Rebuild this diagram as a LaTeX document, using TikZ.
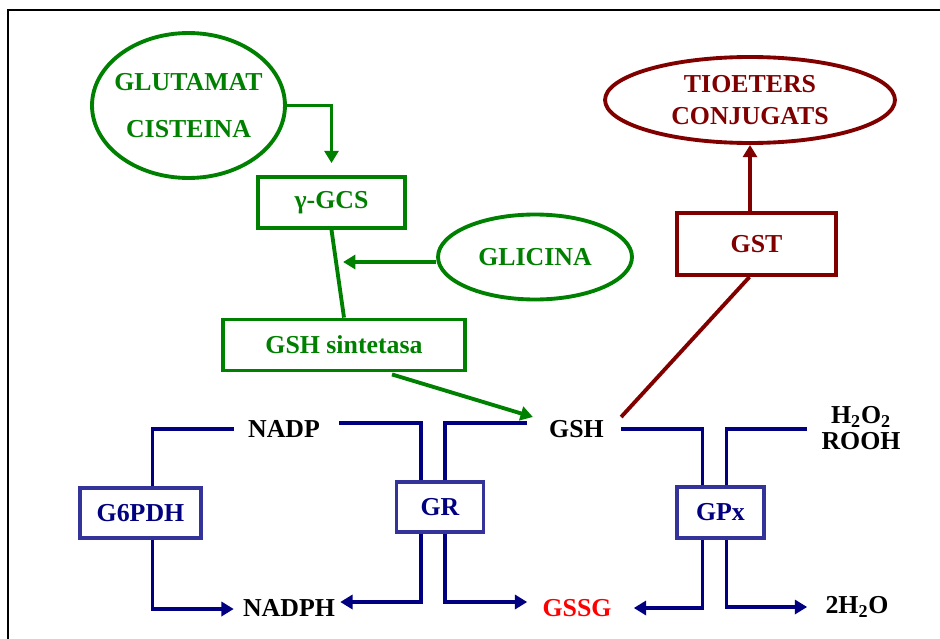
\documentclass[tikz,border=0pt]{standalone}
\usepackage{fontspec}
\setmainfont{Liberation Serif}
\usetikzlibrary{shapes.geometric, arrows.meta, calc}

\definecolor{glugreen}{RGB}{0,128,0}
\definecolor{gstred}{RGB}{128,0,0}
\definecolor{redoxblue}{RGB}{0,0,128}
\definecolor{boxblue}{RGB}{51,51,153}

\begin{document}
\begin{tikzpicture}[
    x=0.02cm, y=-0.02cm,
    every node/.style={font=\bfseries\fontsize{14.7}{17}\selectfont},
    enzbox/.style={rectangle, draw, line width=2.2pt, fill=white, inner sep=0pt},
    synbox/.style={enzbox, draw=glugreen, text=glugreen},
    redbox/.style={enzbox, draw=boxblue, text=redoxblue, minimum width=1.74cm, minimum height=1.0cm},
    pool/.style={ellipse, draw, line width=2.2pt, inner sep=0pt, align=center},
    chem/.style={inner sep=0pt, align=center},
    tip/.style={-{Triangle[length=7pt, width=8pt]}},
    gline/.style={glugreen, line width=2.2pt},
    garrow/.style={gline, tip},
    rline/.style={gstred, line width=2.2pt},
    rarrow/.style={rline, tip},
    bline/.style={redoxblue, line width=1.8pt},
    barrow/.style={bline, tip}
]
\useasboundingbox (0,0) rectangle (940,639);
\draw[line width=1.5pt] (8,639) -- (8,10) -- (940,10);

\node[pool, draw=glugreen, text=glugreen, minimum width=3.86cm, minimum height=2.9cm, inner xsep=-12pt,
      font=\bfseries\fontsize{14.7}{27}\selectfont] (glu) at (188.5,105.5) {GLUTAMAT\\CISTEINA};
\node[pool, draw=glugreen, text=glugreen, minimum width=3.88cm, minimum height=1.7cm] (gli) at (535,257) {GLICINA};
\node[pool, draw=gstred, text=gstred, minimum width=5.8cm, minimum height=1.72cm,
      font=\bfseries\fontsize{14.7}{18}\selectfont] (tio) at (750,100) {TIOETERS\\CONJUGATS};

\node[synbox, minimum width=2.94cm, minimum height=1.02cm] (gcs)  at (331.5,202.5) {γ-GCS};
\node[synbox, minimum width=4.84cm, minimum height=1.02cm] (sint) at (344,345)     {GSH sintetasa};
\node[enzbox, draw=gstred, text=gstred, minimum width=3.18cm, minimum height=1.24cm] (gst) at (756.5,244) {GST};

\node[redbox, minimum width=2.42cm] (g6pdh) at (140.5,513) {G6PDH};
\node[redbox]                       (gr)    at (440,507)   {GR};
\node[redbox, minimum height=1.02cm] (gpx)  at (720.5,512.5) {GPx};

\node[chem] (nadp)  at (284,429)   {NADP};
\node[chem] (nadph) at (289,608)   {NADPH};
\node[chem] (gsh)   at (576.5,429) {GSH};
\node[chem, text=red] (gssg) at (577,608) {GSSG};
\node[chem, font=\bfseries\fontsize{14.7}{15}\selectfont] (perox) at (861,428) {H\textsubscript{2}O\textsubscript{2}\\ROOH};
\node[chem] (water) at (857,607)   {2H\textsubscript{2}O};

\draw[garrow, shorten >=0.24cm] (glu.east) -| (gcs.north);
\draw[gline] (gcs.south) -- (sint.north);
\draw[garrow] ($(gli.west)+(0,5)$) -- ++(-93,0);
\draw[garrow] ($(sint.south)+(48,2)$) -- ($(gsh.west)+(-16,-12)$);

\draw[rline]  ($(gsh.east)+(17,-12)$) -- ($(gst.south)+(-7,0)$);
\draw[rarrow] (tio.south |- gst.north) -- (tio.south);

\draw[bline]  ($(nadp.west)+(-14,0)$) -| ($(g6pdh.north)+(12,0)$);
\draw[barrow] ($(g6pdh.south)+(12,0)$) |- ($(nadph.west)+(-9,1)$);
\draw[bline]  ($(nadp.east)+(19,-6)$) -| ($(gr.north)+(-19,0)$);
\draw[barrow] ($(gr.south)+(-19,0)$) |- ($(nadph.east)+(5,-6)$);
\draw[bline]  ($(gsh.west)+(-22,-6)$) -| ($(gr.north)+(5,0)$);
\draw[barrow] ($(gr.south)+(5,0)$) |- ($(gssg.west)+(-15,-6)$);
\draw[bline]  ($(gsh.east)+(17,0)$) -| ($(gpx.north)+(-18,0)$);
\draw[barrow] ($(gpx.south)+(-18,0)$) |- ($(gssg.east)+(22,0)$);
\draw[bline]  ($(perox.west)+(-14,1)$) -| ($(gpx.north)+(6,0)$);
\draw[barrow] ($(gpx.south)+(6,0)$) |- ($(water.west)+(-18,0)$);

\end{tikzpicture}
\end{document}
